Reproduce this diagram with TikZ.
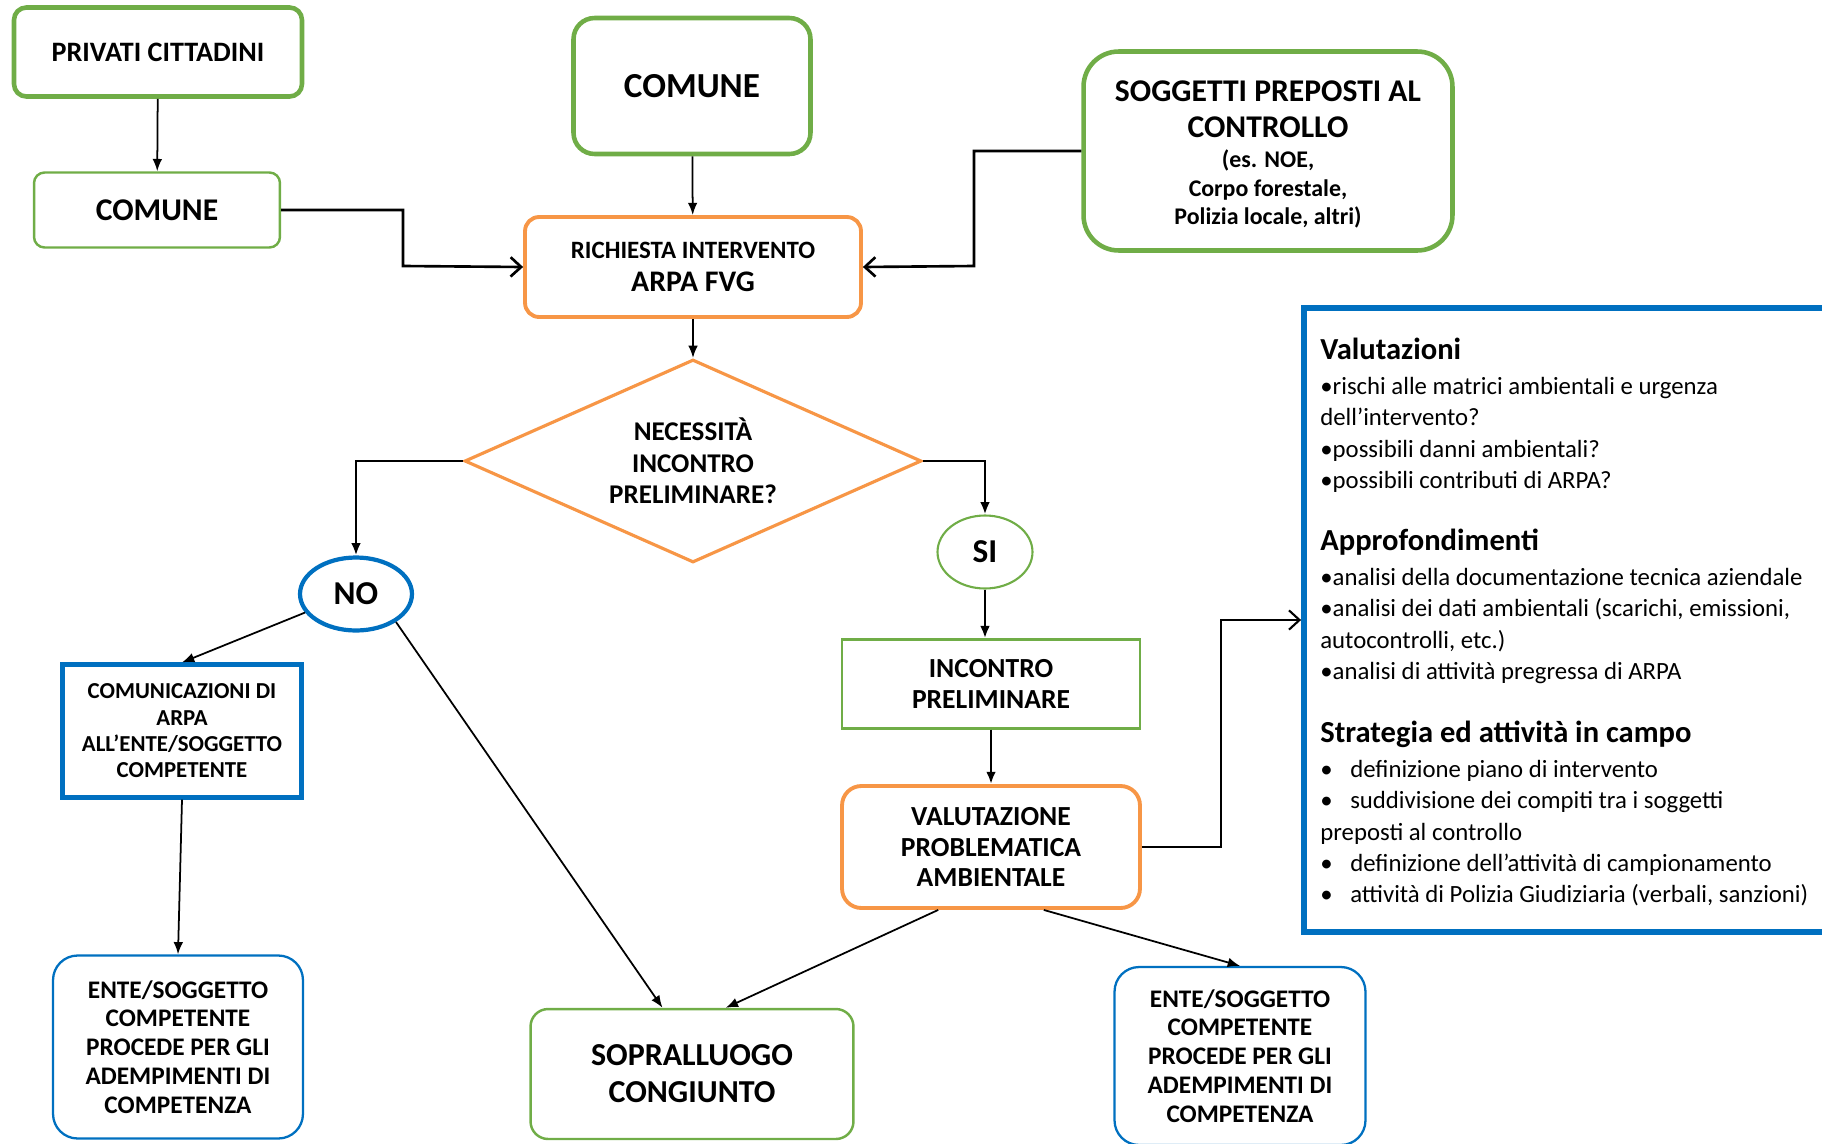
\documentclass[tikz,border=0pt]{standalone}
\usepackage{fontspec}
\setmainfont{Carlito}
\usetikzlibrary{shapes.geometric,arrows.meta}
\definecolor{boxgreen}{RGB}{112,173,71}
\definecolor{boxorange}{RGB}{247,150,70}
\definecolor{boxblue}{RGB}{0,112,192}

\begin{document}
\begin{tikzpicture}[x=0.02cm, y=-0.02cm,
    greenbox/.style={draw=boxgreen, line width=2.6pt, align=center, inner sep=0pt, font=\bfseries},
    greenthin/.style={draw=boxgreen, line width=1.4pt, align=center, inner sep=0pt, font=\bfseries},
    orangebox/.style={draw=boxorange, line width=2.2pt, align=center, inner sep=0pt, font=\bfseries},
    bluebox/.style={draw=boxblue, line width=2.4pt, align=center, inner sep=0pt, font=\bfseries},
    bluethin/.style={draw=boxblue, line width=1.3pt, align=center, inner sep=0pt, font=\bfseries},
    link/.style={draw=black, line width=1pt, -{Latex[length=7pt,width=5.5pt]}},
    openlink/.style={draw=black, line width=1.5pt, -{Straight Barb[length=6pt,width=11pt]}},
    notetext/.style={anchor=north west, align=left, inner sep=0pt, font=\fontsize{14.1}{17.8}\selectfont}
]

\useasboundingbox (0,0) rectangle (1822,1143);

% 1. SOURCES OF THE REQUEST
\node[greenbox, rounded corners=7pt, minimum width=5.76cm, minimum height=1.78cm,
      font=\fontsize{16}{19}\selectfont\bfseries] (privati) at (158,52) {PRIVATI CITTADINI};
\node[greenthin, rounded corners=6pt, minimum width=4.92cm, minimum height=1.5cm,
      font=\fontsize{18}{21}\selectfont\bfseries] (comuneA) at (157,210) {COMUNE};
\node[greenbox, rounded corners=12pt, minimum width=4.74cm, minimum height=2.72cm,
      font=\fontsize{20}{23}\selectfont\bfseries] (comuneB) at (692,86) {COMUNE};
\node[greenbox, rounded corners=20pt, minimum width=7.38cm, minimum height=3.98cm,
      font=\fontsize{18}{16.2}\selectfont\bfseries] (soggetti) at (1268,151)
      {\rule{0pt}{16pt}SOGGETTI PREPOSTI AL\\[4.3pt]CONTROLLO\\[0.9pt]
       {\fontsize{13.6}{16.2}\selectfont (es. NOE,}\\
       {\fontsize{13.6}{16.2}\selectfont Corpo forestale,}\\
       {\fontsize{13.6}{16.2}\selectfont Polizia locale, altri)}};

% 2. REQUEST AND DECISION
\node[orangebox, rounded corners=8pt, minimum width=6.72cm, minimum height=2cm,
      font=\fontsize{14.2}{18.8}\selectfont\bfseries] (richiesta) at (693,267)
      {RICHIESTA INTERVENTO\\{\fontsize{17}{18.8}\selectfont ARPA FVG}};
\node[diamond, aspect=2.25, draw=boxorange, line width=1.8pt, align=center, inner sep=0pt,
      minimum width=9.14cm, minimum height=4.06cm,
      font=\fontsize{15.4}{18}\selectfont\bfseries] (decisione) at (693,461)
      {NECESSITÀ\\INCONTRO\\PRELIMINARE?};
\node[ellipse, bluebox, minimum width=2.24cm, minimum height=1.46cm,
      font=\fontsize{19}{22}\selectfont\bfseries] (no) at (356,594) {NO};
\node[ellipse, greenthin, line width=1.2pt, minimum width=1.9cm, minimum height=1.46cm,
      font=\fontsize{19}{22}\selectfont\bfseries] (si) at (985,552) {SI};

% 3. BRANCH NO
\node[bluebox, minimum width=4.78cm, minimum height=2.66cm,
      font=\fontsize{13}{15}\selectfont\bfseries] (comunicazioni) at (182,731)
      {COMUNICAZIONI DI\\ARPA\\ALL'ENTE/SOGGETTO\\COMPETENTE};
\node[bluethin, rounded corners=14pt, minimum width=5cm, minimum height=3.66cm,
      font=\fontsize{14.4}{16.4}\selectfont\bfseries] (enteA) at (178,1047)
      {ENTE/SOGGETTO\\COMPETENTE\\PROCEDE PER GLI\\ADEMPIMENTI DI\\COMPETENZA};

% 4. BRANCH SI
\node[greenthin, minimum width=5.96cm, minimum height=1.78cm,
      font=\fontsize{15.7}{18}\selectfont\bfseries] (incontro) at (991,684)
      {INCONTRO\\PRELIMINARE};
\node[orangebox, rounded corners=11pt, minimum width=5.96cm, minimum height=2.44cm,
      font=\fontsize{15.7}{17.6}\selectfont\bfseries] (valutazione) at (991,847)
      {VALUTAZIONE\\PROBLEMATICA\\AMBIENTALE};
\node[greenthin, rounded corners=10pt, minimum width=6.46cm, minimum height=2.6cm,
      font=\fontsize{18.2}{21}\selectfont\bfseries] (sopralluogo) at (692,1074)
      {SOPRALLUOGO\\CONGIUNTO};
\node[bluethin, rounded corners=14pt, minimum width=5.02cm, minimum height=3.56cm,
      font=\fontsize{14.4}{16.4}\selectfont\bfseries] (enteB) at (1240,1056)
      {ENTE/SOGGETTO\\COMPETENTE\\PROCEDE PER GLI\\ADEMPIMENTI DI\\COMPETENZA};

% 5. NOTES BOX
\node[draw=boxblue, line width=3.4pt, minimum width=10.72cm, minimum height=12.48cm, inner sep=0pt]
      (notes) at (1572,620) {};
\node[notetext] (valutazioni) at (1320,338)
      {{\fontsize{17.4}{20}\selectfont\bfseries Valutazioni}\\[2pt]
       \textbullet rischi alle matrici ambientali e urgenza\\
       dell’intervento?\\
       \textbullet possibili danni ambientali?\\
       \textbullet possibili contributi di ARPA?};
\node[notetext] (approfondimenti) at (1320,529)
      {{\fontsize{17.4}{20}\selectfont\bfseries Approfondimenti}\\[2pt]
       \textbullet analisi della documentazione tecnica aziendale\\
       \textbullet analisi dei dati ambientali (scarichi, emissioni,\\
       autocontrolli, etc.)\\
       \textbullet analisi di attività pregressa di ARPA};
\node[notetext] (strategia) at (1320,721)
      {{\fontsize{17.4}{20}\selectfont\bfseries Strategia ed attività in campo}\\[2pt]
       \textbullet\hspace{10pt}definizione piano di intervento\\
       \textbullet\hspace{10pt}suddivisione dei compiti tra i soggetti\\
       preposti al controllo\\
       \textbullet\hspace{10pt}definizione dell’attività di campionamento\\
       \textbullet\hspace{10pt}attività di Polizia Giudiziaria (verbali, sanzioni)};

% 6. CONNECTORS
\coordinate (bendA) at (403,266);
\coordinate (bendB) at (974,266);
\coordinate (bendC) at (1221,620);

\draw[link] (privati) -- (comuneA);
\draw[openlink] (comuneA.east) -| (bendA) -- (richiesta.west);
\draw[link] (comuneB) -- (richiesta);
\draw[openlink] (soggetti.west) -| (bendB) -- (richiesta.east);
\draw[link] (richiesta) -- (decisione);
\draw[link, line width=1.4pt] (decisione.west) -| (no.north);
\draw[link, line width=1.4pt] (decisione.east) -| (si.north);
\draw[link] (no.200) -- (comunicazioni.north);
\draw[link] (no.-35) -- (sopralluogo.114);
\draw[link] (comunicazioni.south) -- (enteA.north);
\draw[link, line width=1.4pt] (si.south) -- (si.south |- incontro.north);
\draw[link, line width=1.4pt] (incontro) -- (valutazione);
\draw[openlink, line width=1.2pt] (valutazione.east) -| (bendC) -- (notes.west);
\draw[link] (valutazione.-130) -- (sopralluogo.63);
\draw[link] (valutazione.-50) -- (enteB.north);

\end{tikzpicture}
\end{document}
